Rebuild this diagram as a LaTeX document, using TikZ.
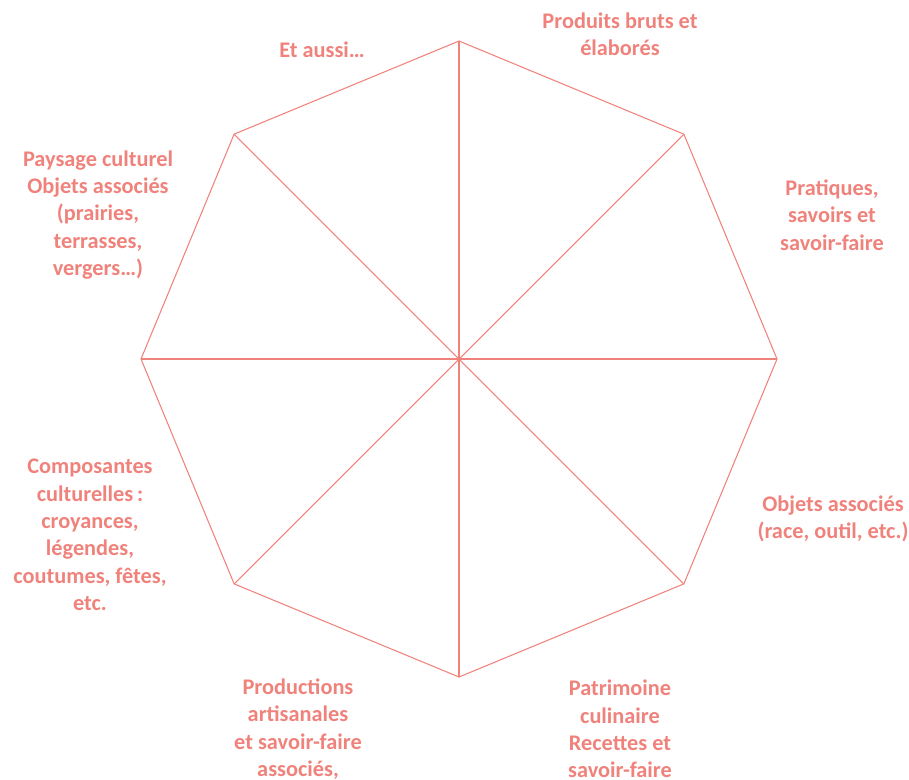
\documentclass[tikz,border=0pt]{standalone}
\usepackage{fontspec}
\setmainfont{Carlito}
\usepackage{tikz}
\usetikzlibrary{calc}

\definecolor{salmon}{RGB}{240,130,124}

\tikzset{
    lbl/.style={align=center, text=salmon, inner sep=0pt,
        font=\bfseries\fontsize{12.7}{15.6}\selectfont},
    edge/.style={draw=salmon, line width=0.6pt}
}

\begin{document}
\begin{tikzpicture}[x=0.02cm, y=-0.02cm]
    \useasboundingbox (0,0) rectangle (909,779);

    % --- OCTAGON ---
    \coordinate (c) at (459,359);
    \foreach \a in {0,45,...,315} \coordinate (v\a) at ($(c)+(\a:318)$);
    \draw[edge] (v0) -- (v45) -- (v90) -- (v135) -- (v180) -- (v225) -- (v270) -- (v315) -- cycle;
    \foreach \a in {0,45,...,315} \draw[edge] (c) -- (v\a);

    % --- LABELS ---
    \node[lbl] (prod) at (620,34) {Produits bruts et\\élaborés};
    \node[lbl] (aussi) at (322,50) {Et aussi…};
    \node[lbl] (prat) at (832,215) {Pratiques,\\savoirs et\\savoir-faire};
    \node[lbl] (obj) at (833,519) {Objets associés\\(race, outil, etc.)};
    \node[lbl] (patr) at (620,729) {Patrimoine\\culinaire\\Recettes et\\savoir-faire};
    \node[lbl] (arti) at (298,729) {Productions\\artisanales\\et savoir-faire\\associés,};
    \node[lbl] (comp) at (90,535) {Composantes\\culturelles\,:\\croyances,\\légendes,\\coutumes, fêtes,\\etc.};
    \node[lbl] (pays) at (98,215) {Paysage culturel\\Objets associés\\(prairies,\\terrasses,\\vergers…)};
\end{tikzpicture}
\end{document}
